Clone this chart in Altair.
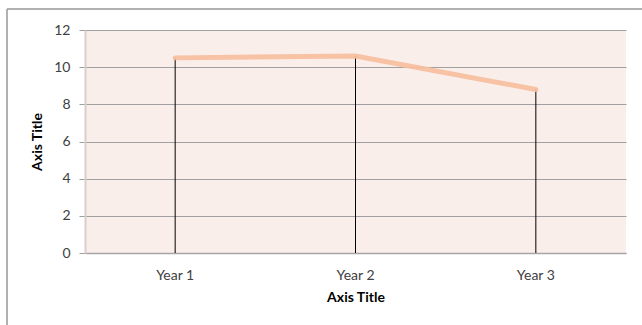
import altair as alt
import pandas as pd

categories = ["Year  1", "Year 2", "Year 3"]
values = [10.5, 10.6, 8.8]

df = pd.DataFrame({"year": categories, "value": values})

FONT = "Lato"

x_enc = alt.X(
    "year:N",
    sort=categories,
    scale=alt.Scale(paddingInner=0, paddingOuter=0),
    axis=alt.Axis(
        title="Axis Title",
        labelAngle=0,
        ticks=False,
        domainColor="#A6A6A6",
        domainWidth=1.5,
        labelFont=FONT,
        labelFontSize=14,
        labelColor="#404040",
        labelPadding=15,
        titleFont=FONT,
        titleFontSize=14,
        titleFontWeight="bold",
        titleColor="#000000",
        titlePadding=8,
        grid=False,
    ),
)

y_enc = alt.Y(
    "value:Q",
    scale=alt.Scale(domain=[0, 12], nice=False),
    axis=alt.Axis(
        title="Axis Title",
        values=[0, 2, 4, 6, 8, 10, 12],
        tickSize=6,
        tickColor="#A0A0A0",
        domainColor="#D9CFCC",
        domainWidth=2,
        gridColor="#A0A0A0",
        gridWidth=1,
        labelFont=FONT,
        labelFontSize=14,
        labelColor="#404040",
        labelPadding=9,
        titleFont=FONT,
        titleFontSize=14,
        titleFontWeight="bold",
        titleColor="#000000",
        titlePadding=9,
    ),
)

base = alt.Chart(df)

# outer chart frame: top edge and left edge as thin filled strips
frame_top = base.mark_rect(color="#A6A6A6").encode(
    x=alt.value(-78), x2=alt.value(557), y=alt.value(-21.5), y2=alt.value(-20.5)
)
frame_left = base.mark_rect(color="#A6A6A6").encode(
    x=alt.value(-78.5), x2=alt.value(-77.5), y=alt.value(-21), y2=alt.value(295)
)

# vertical drop lines from each point to the baseline
drops = base.mark_rule(color="#000000", strokeWidth=1).encode(
    x=x_enc, y=y_enc, y2=alt.datum(0)
)

line = base.mark_line(
    color="#F6BE9C", strokeWidth=5, opacity=0.9, strokeCap="round"
).encode(x=x_enc, y=y_enc)

chart = (
    alt.layer(drops, line, frame_top, frame_left)
    .properties(
        width=541,
        height=223,
        padding={"left": 85, "top": 30, "right": 16, "bottom": 72},
        autosize=alt.AutoSizeParams(type="none"),
        background="#FFFFFF",
    )
    .configure_view(fill="#FAEEEA", strokeWidth=0)
)

chart.save("out.html", embed_options={"renderer": "svg", "actions": False})
